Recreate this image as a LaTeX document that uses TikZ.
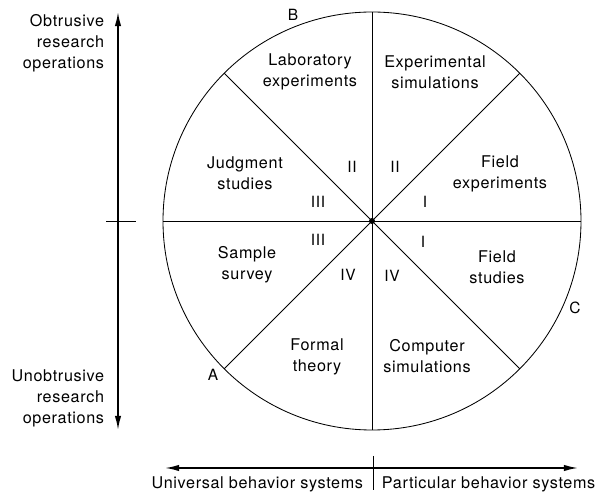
\documentclass[tikz,border=0pt]{standalone}
\usepackage{fontspec}
\setmainfont{TeX Gyre Heros}[LetterSpace=4]
\usetikzlibrary{arrows.meta,calc}

\tikzset{
  axis/.style = {line width=1.1pt, {Latex[length=10pt,width=4.5pt]}-{Latex[length=10pt,width=4.5pt]}},
  sector/.style = {align=center, font=\fontsize{11.5}{15}\selectfont},
  num/.style = {font=\fontsize{11}{12}\selectfont},
}

\begin{document}
\begin{tikzpicture}[x=0.025cm, y=0.025cm]
\useasboundingbox (0,0) rectangle (600,493);

% circle and diameters
\coordinate (O) at (372,272);
\draw[line width=0.6pt] (O) circle (209);
\foreach \a in {0,45,...,315}
  \coordinate (p\a) at ($(O)+(\a:209)$);
\draw[line width=0.6pt] (p0) -- (p180);
\draw[line width=0.6pt] (p45) -- (p225);
\draw[line width=0.6pt] (p90) -- (p270);
\draw[line width=0.6pt] (p135) -- (p315);
\fill (O) circle (3);

% sectors
\node[sector] (lab) at (310,421) {Laboratory\\experiments};
\node[sector] (exs) at (435,421) {Experimental\\simulations};
\node[sector] (jud) at (245,320) {Judgment\\studies};
\node[sector] (fex) at (500,319) {Field\\experiments};
\node[sector] (sam) at (247,228) {Sample\\survey};
\node[sector] (fst) at (497,226) {Field\\studies};
\node[sector] (for) at (317,136) {Formal\\theory};
\node[sector] (com) at (427,137) {Computer\\simulations};

% quadrant numbers
\node[num] (n1) at (352,326) {II};
\node[num] (n2) at (395,326) {II};
\node[num] (n3) at (318,291) {III};
\node[num] (n4) at (425,291) {I};
\node[num] (n5) at (318,253) {III};
\node[num] (n6) at (423,251) {I};
\node[num] (n7) at (348,218) {IV};
\node[num] (n8) at (392,217) {IV};

% letters on the circle
\node[num] (B) at (293,478) {B};
\node[num] (C) at (575,185) {C};
\node[num] (A) at (213,118) {A};

% vertical axis
\coordinate (vtop) at (118,481);
\coordinate (vbot) at (118,63);
\draw[axis] (vbot) -- (vtop);
\coordinate (vt1) at (106,272);
\coordinate (vt2) at (136,272);
\draw[line width=0.6pt] (vt1) -- (vt2);
\node[sector, align=right, anchor=east] (obt) at (109,450) {Obtrusive\\research\\operations};
\node[sector, align=right, anchor=east] (unobt) at (109,95) {Unobtrusive\\research\\operations};

% horizontal axis
\coordinate (hl) at (165,25);
\coordinate (hr) at (578,25);
\draw[axis] (hl) -- (hr);
\coordinate (ht1) at (373,37);
\coordinate (ht2) at (373,3);
\draw[line width=0.6pt] (ht1) -- (ht2);
\node[sector, anchor=east] (univ) at (368,9) {Universal behavior systems};
\node[sector, anchor=west] (part) at (377,9) {Particular behavior systems};

\end{tikzpicture}
\end{document}
